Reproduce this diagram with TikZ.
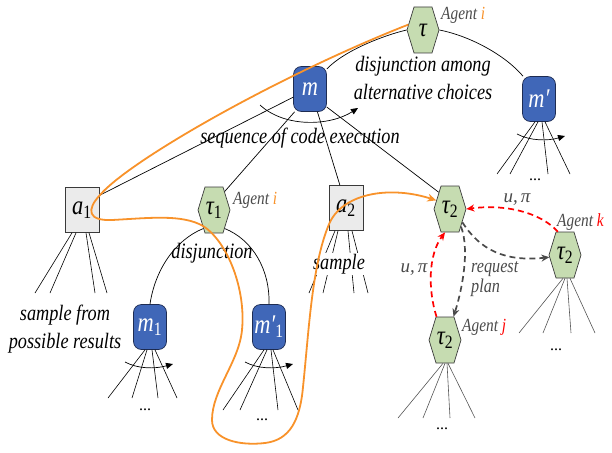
\documentclass[tikz,border=0pt]{standalone}
\usepackage{fontspec}
\setmainfont{Liberation Serif}
\newfontfamily\condf[FakeStretch=0.83]{Liberation Serif}
\usetikzlibrary{arrows.meta,shapes.symbols,calc}
\definecolor{hexg}{HTML}{C6DCB1}
\definecolor{hexd}{HTML}{3A3A3A}
\definecolor{mblue}{HTML}{4067B8}
\definecolor{mbd}{HTML}{1E2C52}
\definecolor{agray}{HTML}{EBEBEB}
\definecolor{aorange}{HTML}{F8922A}
\definecolor{dgray}{HTML}{4A4A4A}
\definecolor{fangray}{HTML}{555555}
\begin{document}
\begin{tikzpicture}[x=1pt,y=-1pt,
  hexnode/.style={signal, signal to=east and west, signal pointer angle=146,
    minimum width=32pt, minimum height=46pt, inner sep=0pt, fill=hexg, draw=hexd,
    line width=0.7pt, font=\condf\fontsize{27}{27}\selectfont\itshape},
  mnode/.style={rectangle, rounded corners=8pt, minimum width=33pt, minimum height=45pt,
    inner sep=0pt, fill=mblue, draw=mbd, line width=0.7pt, text=white,
    font=\condf\fontsize{27}{27}\selectfont\itshape},
  anode/.style={rectangle, minimum width=34pt, minimum height=45pt, inner sep=0pt,
    fill=agray, draw=hexd, line width=0.7pt, font=\condf\fontsize{27}{27}\selectfont\itshape},
  lbl/.style={font=\condf\fontsize{22}{28}\selectfont\itshape, inner sep=0pt},
  agent/.style={font=\condf\fontsize{18.5}{18}\selectfont\itshape, text=dgray, anchor=west, inner sep=0pt},
  small/.style={font=\condf\fontsize{19.5}{20}\selectfont\itshape, text=dgray, inner sep=0pt},
  upl/.style={font=\fontsize{19}{20}\selectfont\itshape, text=dgray, inner sep=0pt},
  dotsl/.style={font=\fontsize{16}{16}\selectfont, inner sep=0pt},
  tree/.style={line width=0.7pt, black},
  fan/.style={line width=0.6pt, black},
  gfan/.style={line width=0.6pt, fangray},
  rot/.style={line width=0.7pt, black, -{Triangle[length=7pt,width=6pt]}},
  orng/.style={line width=1.8pt, aorange, -{Stealth[length=9pt,width=8pt]}},
  redd/.style={line width=1.7pt, red, dash pattern=on 6pt off 4pt, -{Stealth[length=8pt,width=7pt]}},
  grayd/.style={line width=1.7pt, dgray, dash pattern=on 6pt off 4pt, -{Stealth[length=8pt,width=7pt]}}
]
\useasboundingbox (0,0) rectangle (612,452);

% nodes
\node[hexnode] (tau) at (423,30) {τ};
\node[mnode] (m) at (310,89) {m};
\node[mnode] (mp) at (539,99) {m′};
\node[anode] (a1) at (82,210) {a\textsubscript{\upshape 1}};
\node[hexnode] (t1) at (214,210) {τ\textsubscript{\upshape 1}};
\node[anode] (a2) at (346,208) {a\textsubscript{\upshape 2}};
\node[hexnode] (t2) at (450,209) {τ\textsubscript{\upshape 2}};
\node[hexnode] (tk) at (565,255) {τ\textsubscript{\upshape 2}};
\node[hexnode] (tj) at (445,340) {τ\textsubscript{\upshape 2}};
\node[mnode] (m1) at (150,327) {m\textsubscript{\upshape 1}};
\node[mnode] (m1p) at (269,327) {m′\textsubscript{\upshape 1}};

% agent labels
\node[agent] (lti) at (441,15) {Agent \textcolor{aorange}{i}};
\node[agent] (lt1) at (233,200) {Agent \textcolor{aorange}{i}};
\node[agent] (ltk) at (557,222) {Agent \textcolor{red}{k}};
\node[agent] (ltj) at (462,327) {Agent \textcolor{red}{j}};

% text labels
\node[lbl, align=center] (dj) at (423,78) {disjunction among\\alternative choices};
\node[lbl] (seq) at (300,138) {sequence of code execution};
\node[lbl] (dj1) at (212,253) {disjunction};
\node[lbl, align=center] (sfp) at (65,329) {sample from\\possible results};
\node[small, align=left, anchor=west] (rq) at (471,279) {request\\plan};
\node[upl] (up1) at (517,200) {u,\,π};
\node[upl] (up2) at (414,270) {u,\,π};

% dots
\node[dotsl] (d1) at (145,410) {...};
\node[dotsl] (d2) at (262,420) {...};
\node[dotsl] (d3) at (535,180) {...};
\node[dotsl] (d4) at (556,350) {...};
\node[dotsl] (d5) at (442,429) {...};

% disjunction arc over tau
\draw[tree] (m.50) .. controls (345,50) and (385,35) .. (tau.west);
\draw[tree] (tau.east) .. controls (470,36) and (505,55) .. (mp.125);
% sequence arrow
\draw[rot] (260,105) .. controls (285,128) and (330,126) .. (358,108);
% tree edges from m
\draw[tree] (m.206) -- (a1.40);
\draw[tree] (m.236) -- (t1.60);
\draw[tree] (m.-72) -- (a2.105);
\draw[tree] (m.-47) -- (t2.124);
% disjunction under t1
\draw[tree] (t1.-120) .. controls (175,240) and (155,270) .. (m1.north);
\draw[tree] (t1.-60) .. controls (253,240) and (270,270) .. (m1p.north);

% fans
\foreach \s/\e in {-10/35, -6/50, 4/95, 7/107}
  \draw[fan] ($(a1.south)+(\s,0)$) -- (\e,293);
\foreach \s/\e in {-11/309, -8/323, 2/354, 6/368}
  \draw[fan] ($(a2.south)+(\s,0)$) -- (\e,293);
\node[lbl, fill=white, inner sep=1pt] (smp) at (339,264) {sample};
\foreach \s/\e in {-5/108, -3/132, 2/158, 5/177}
  \draw[fan] ($(m1.south)+(\s,0)$) -- (\e,398);
\draw[rot] (125,362) .. controls (138,369) and (155,369) .. (173,364);
\foreach \s/\e in {-5/223, -2/240, 2/278, 4/298}
  \draw[fan] ($(m1p.south)+(\s,0)$) -- (\e,410);
\draw[rot] (245,362) .. controls (258,369) and (275,369) .. (293,364);
\foreach \s/\e in {-4/497, -1/510, 3/548, 6/570}
  \draw[fan] ($(mp.south)+(\s,0)$) -- (\e,174);
\draw[rot] (517,134) .. controls (530,141) and (548,141) .. (565,136);
\foreach \s/\e in {-2/519, 0/543, 2/571, 5/595}
  \draw[gfan] ($(tk.south)+(\s,0)$) -- (\e,333);
\foreach \s/\e in {-2/398, 0/423, 2/450, 3/475}
  \draw[gfan] ($(tj.south)+(\s,0)$) -- (\e,418);

% agent communication
\draw[redd] (tk.107) .. controls (540,212) and (505,204) .. (t2.east);
\draw[grayd] (t2.-47) .. controls (480,250) and (505,262) .. (tk.188);
\draw[redd] (tj.110) .. controls (428,290) and (428,255) .. (t2.-102);
\draw[grayd] (t2.-58) .. controls (470,250) and (462,290) .. (tj.70);

% orange trajectory
\draw[orng] (tau.160) .. controls (280,75) and (130,160) .. (100,195)
  .. controls (86,210) and (88,221) .. (112,220)
  .. controls (150,218) and (182,214) .. (203,226)
  .. controls (228,242) and (246,290) .. (242,330)
  .. controls (239,362) and (212,390) .. (212,420)
  .. controls (212,440) and (240,446) .. (265,443)
  .. controls (290,440) and (300,420) .. (303,387)
  .. controls (309,330) and (312,262) .. (330,222)
  .. controls (345,192) and (392,186) .. (t2.148);
\end{tikzpicture}
\end{document}
